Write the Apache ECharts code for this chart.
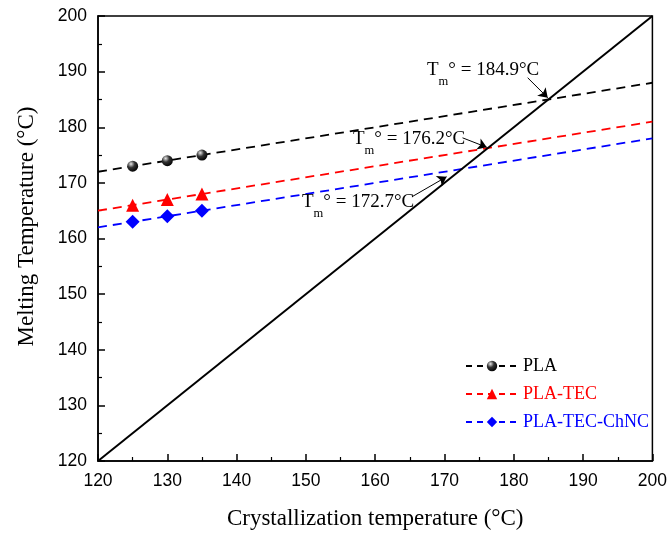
<!DOCTYPE html>
<html>
<head>
<meta charset="utf-8">
<script src="https://cdn.jsdelivr.net/npm/echarts@6/dist/echarts.min.js"></script>
<style>
  html, body { margin: 0; padding: 0; background: #fff; }
  #main { width: 670px; height: 535px; }
</style>
</head>
<body>
<div id="main"></div>
<script>
// measured points
var crystT = [125, 130, 135];
var plaTm = [173, 174, 175];
var tecTm = [166, 167, 168];
var chncTm = [163, 164, 165];

// fitted lines, read at the plot edges
var fitX = [120, 200];
var plaFit = [172, 188];
var tecFit = [165, 181];
var chncFit = [162, 178];
var diagonal = [120, 200];

// annotations: label, arrow start, arrow end
var notes = [
  { text: '184.9°C', from: [182.0, 188.9], to: [184.9, 185.3] },
  { text: '176.2°C', from: [172.6, 178.1], to: [176.1, 176.4] },
  { text: '172.7°C', from: [165.3, 167.5], to: [170.3, 171.1] }
];

var serif = '"Liberation Serif", "Times New Roman", serif';
var sans = '"Liberation Sans", Arial, sans-serif';

function pairs(xs, ys) {
  return xs.map(function (x, i) { return [x, ys[i]]; });
}

var sphere = new echarts.graphic.RadialGradient(0.35, 0.3, 0.75, [
  { offset: 0, color: '#e8e8e8' },
  { offset: 0.45, color: '#333' },
  { offset: 1, color: '#000' }
]);

function fitSeries(ys, color) {
  return {
    type: 'line',
    data: pairs(fitX, ys),
    showSymbol: false,
    silent: true,
    lineStyle: { color: color, width: 1.8, type: [9, 6] },
    z: 2
  };
}

function pointSeries(name, ys, color, symbol, size, fill) {
  return {
    name: name,
    type: 'line',
    data: pairs(crystT, ys),
    symbol: symbol,
    symbolSize: size,
    showSymbol: true,
    itemStyle: { color: fill || color, borderWidth: 0 },
    lineStyle: { color: color, width: 1.8, type: [6, 5], opacity: 0 },
    z: 5
  };
}

var axisCommon = {
  type: 'value',
  min: 120,
  max: 200,
  interval: 10,
  axisLine: { show: true, onZero: false, lineStyle: { color: '#000', width: 1.5 } },
  axisTick: { show: true, inside: true, length: 7, lineStyle: { color: '#000', width: 1.5 } },
  minorTick: { show: true, splitNumber: 2, length: 4, lineStyle: { color: '#000', width: 1.2 } },
  splitLine: { show: false },
  axisLabel: { color: '#000', fontFamily: sans, fontSize: 17.5, margin: 11 },
  nameLocation: 'middle'
};

var arrowData = notes.map(function (n) {
  return [{ coord: n.from }, { coord: n.to }];
});

var chart = echarts.init(document.getElementById('main'));
var option = {
  backgroundColor: '#fff',
  animation: false,
  grid: {
    left: 98, right: 17, top: 16, bottom: 73,
    show: true, borderColor: '#000', borderWidth: 1.5, backgroundColor: 'transparent'
  },
  xAxis: Object.assign({}, axisCommon, {
    name: 'Crystallization temperature (°C)',
    nameGap: 46,
    nameTextStyle: { color: '#000', fontFamily: serif, fontSize: 23 }
  }),
  yAxis: Object.assign({}, axisCommon, {
    name: 'Melting Temperature (°C)',
    nameGap: 60,
    nameTextStyle: { color: '#000', fontFamily: serif, fontSize: 23, padding: [0, 0, 0, 24] }
  }),
  legend: {
    orient: 'vertical',
    left: 460,
    top: 352,
    itemWidth: 52,
    itemHeight: 13,
    itemGap: 10,
    textStyle: { fontFamily: serif, fontSize: 18 },
    data: [
      { name: 'PLA', textStyle: { color: '#000' }, lineStyle: { opacity: 1 } },
      { name: 'PLA-TEC', textStyle: { color: '#f00' }, lineStyle: { opacity: 1 } },
      { name: 'PLA-TEC-ChNC', textStyle: { color: '#00f' }, lineStyle: { opacity: 1 } }
    ]
  },
  series: [
    {
      type: 'line',
      data: pairs(diagonal, diagonal),
      showSymbol: false,
      silent: true,
      lineStyle: { color: '#000', width: 2 },
      z: 3,
      markLine: {
        silent: true,
        symbol: ['none', 'arrow'],
        symbolSize: 9,
        label: { show: false },
        lineStyle: { color: '#000', width: 1, type: 'solid' },
        data: arrowData
      }
    },
    fitSeries(plaFit, '#000'),
    fitSeries(tecFit, '#f00'),
    fitSeries(chncFit, '#00f'),
    pointSeries('PLA', plaTm, '#000', 'circle', 11, sphere),
    pointSeries('PLA-TEC', tecTm, '#f00', 'triangle', 13),
    pointSeries('PLA-TEC-ChNC', chncTm, '#00f', 'diamond', 14)
  ],
  graphic: [
    { pos: [427, 61] },
    { pos: [353, 130] },
    { pos: [302, 193] }
  ].map(function (g, i) {
    return {
      type: 'text',
      left: g.pos[0],
      top: g.pos[1],
      z: 10,
      style: {
        text: '{t|T}{m|m}{r|° = ' + notes[i].text + '}',
        fill: '#000',
        rich: {
          t: { fontFamily: serif, fontSize: 19, verticalAlign: 'top', lineHeight: 27 },
          m: { fontFamily: serif, fontSize: 12.5, verticalAlign: 'bottom', lineHeight: 27, padding: [12, 0, 0, 0] },
          r: { fontFamily: serif, fontSize: 19, verticalAlign: 'top', lineHeight: 27 }
        }
      }
    };
  })
};
chart.setOption(option);
</script>
</body>
</html>
